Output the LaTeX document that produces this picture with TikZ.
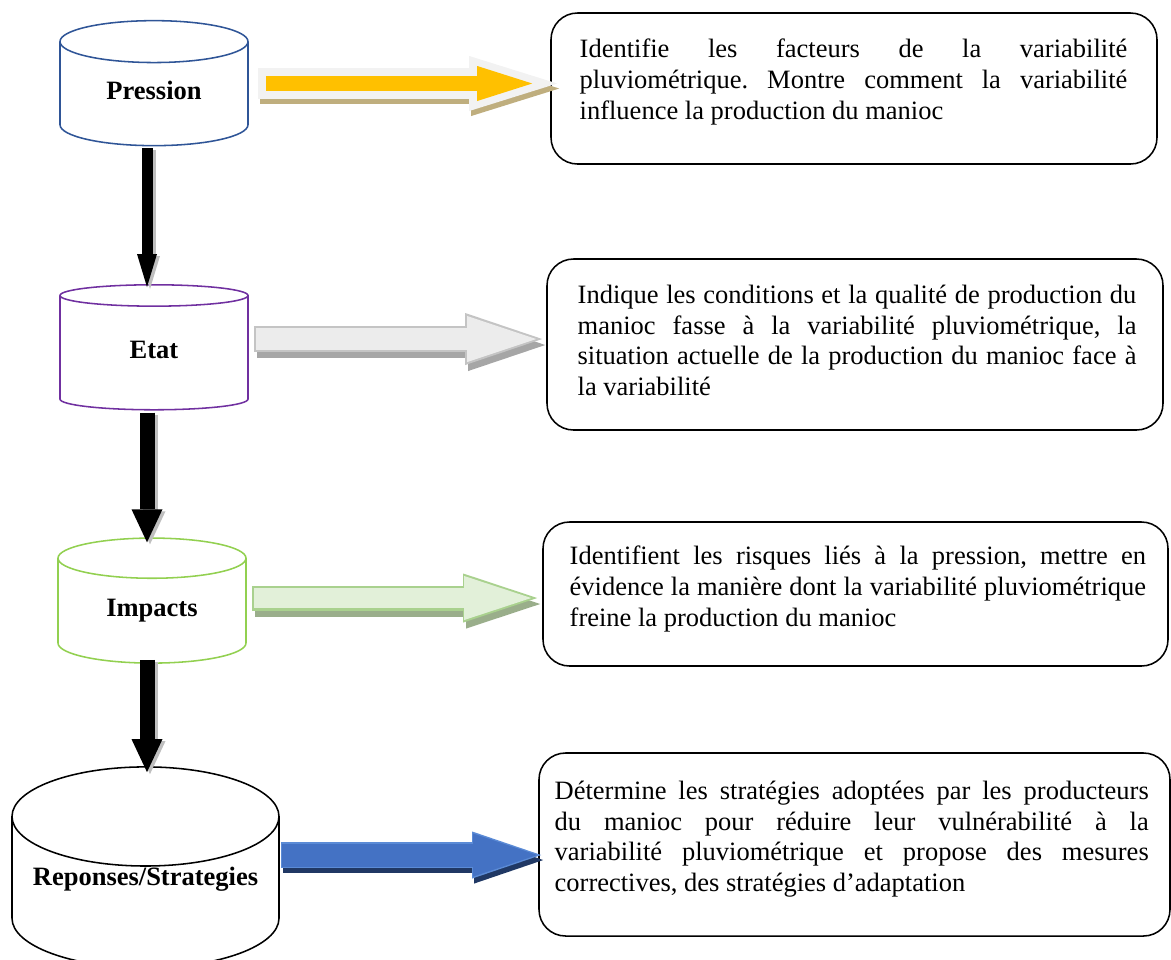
\documentclass[tikz,border=0pt]{standalone}
\usepackage{fontspec}
\setmainfont{Liberation Serif}
\usetikzlibrary{positioning,arrows.meta,shapes.geometric,calc}
\definecolor{pressblue}{HTML}{2F5597}
\definecolor{etatpurple}{HTML}{7030A0}
\definecolor{impgreen}{HTML}{92D050}
\definecolor{arryellow}{HTML}{FFC000}
\definecolor{arrhalo}{HTML}{F2F2F2}
\definecolor{arrtan}{HTML}{BFAE7E}
\definecolor{arrgray}{HTML}{C4C4C4}
\definecolor{arrgrayfill}{HTML}{ECECEC}
\definecolor{arrgrayshade}{HTML}{A6A6A6}
\definecolor{arrgreen}{HTML}{A9D18E}
\definecolor{arrgreenfill}{HTML}{E2F0D9}
\definecolor{arrgreenshade}{HTML}{9AAE8B}
\definecolor{arrblue}{HTML}{4472C4}
\definecolor{arrblueedge}{HTML}{5B8BD6}
\definecolor{arrblueshade}{HTML}{203864}
\definecolor{dropgray}{HTML}{BFBFBF}
\newlength{\px}\setlength{\px}{0.4528pt}
\tolerance=10000
\hyphenpenalty=10000
\frenchspacing

\begin{document}
\begin{tikzpicture}[
    x=0.4528pt, y=-0.4528pt,
    every node/.style={font=\fontsize{12}{14}\selectfont},
    tank/.style={
        cylinder, shape border rotate=90, aspect=0.44, draw=#1,
        line width=0.7pt, minimum width=188\px, minimum height=125\px,
        inner sep=0pt, text height=8.3pt, text depth=3.4pt,
        font=\fontsize{12}{14}\selectfont\bfseries
    },
    descbox/.style={draw, line width=0.7pt, rounded corners=12pt},
    desctext/.style={anchor=north west, align=justify, inner sep=0pt},
    barr/.style n args={4}{
        draw=#1, line width=#2\px,
        -{Triangle[width=\the\dimexpr#3\px\relax, length=\the\dimexpr#4\px\relax, line width=0pt 0 0]}
    },
]
\useasboundingbox (0,0) rectangle (1171,959);

% === Cylinders (left column) ===
\node[tank=pressblue] (press) at (154,94) {Pression};
\node[tank=etatpurple] (etat) at (154,353) {Etat};
\node[tank=impgreen] (impacts) at (152,611) {Impacts};
\node[tank=black, minimum width=267\px, minimum height=177\px, text depth=15pt] (reponses) at (145.5,892.5) {Reponses/Strategies};

% === Description boxes (right column) ===
\node[descbox, minimum width=606\px, minimum height=151\px] (box1) at (854,88.5) {};
\node[descbox, minimum width=616\px, minimum height=171\px] (box2) at (855,344.5) {};
\node[descbox, minimum width=625\px, minimum height=144\px] (box3) at (855.5,594) {};
\node[descbox, minimum width=631\px, minimum height=183\px] (box4) at (854.5,844.5) {};

\node[desctext, text width=248pt] (txt1) at ([xshift=29\px, yshift=-26\px]box1.north west)
    {Identifie les facteurs de la variabilité\linebreak
     pluviométrique. Montre comment la variabilité\linebreak
     influence la production du manioc};
\node[desctext, text width=253pt] (txt2) at ([xshift=31\px, yshift=-26\px]box2.north west)
    {Indique les conditions et la qualité de production du\linebreak
     manioc fasse à la variabilité pluviométrique, la\linebreak
     situation actuelle de la production du manioc face à\linebreak
     la variabilité};
\node[desctext, text width=261pt] (txt3) at ([xshift=27\px, yshift=-24\px]box3.north west)
    {Identifient les risques liés à la pression, mettre en\linebreak
     évidence la manière dont la variabilité pluviométrique\linebreak
     freine la production du manioc};
\node[desctext, text width=269pt] (txt4) at ([xshift=16\px, yshift=-28\px]box4.north west)
    {Détermine les stratégies adoptées par les producteurs\linebreak
     du manioc pour réduire leur vulnérabilité à la\linebreak
     variabilité pluviométrique et propose des mesures\linebreak
     correctives, des stratégies d’adaptation};

% === Downward flow (black arrows) ===
\coordinate (spine) at (147,0);
\draw[barr={dropgray}{11}{20}{33}, transform canvas={shift={(3,2)}}, shorten <=2\px, shorten >=-3\px]
    (press.south -| spine) -- (etat.north -| spine);
\draw[barr={black}{11}{20}{33}, shorten <=2\px, shorten >=-3\px]
    (press.south -| spine) -- (etat.north -| spine);
\draw[barr={dropgray}{15}{31}{33}, transform canvas={shift={(3,2)}}, shorten <=2\px, shorten >=-5\px]
    (etat.south -| spine) -- (impacts.north -| spine);
\draw[barr={black}{15}{31}{33}, shorten <=2\px, shorten >=-5\px]
    (etat.south -| spine) -- (impacts.north -| spine);
\draw[barr={dropgray}{15}{31}{33}, transform canvas={shift={(3,2)}}, shorten <=-4\px, shorten >=-6\px]
    (impacts.south -| spine) -- (reponses.north -| spine);
\draw[barr={black}{15}{31}{33}, shorten <=-4\px, shorten >=-6\px]
    (impacts.south -| spine) -- (reponses.north -| spine);

% === Block arrows towards the boxes ===
% Pression -> box1
\draw[barr={arrtan}{31}{55}{88}, transform canvas={shift={(2,-5.5)}}, shorten <=9\px, shorten >=-7\px]
    (press.east) -- (press.east -| box1.west);
\draw[barr={arrhalo}{31}{55}{88}, transform canvas={shift={(0,-10.5)}}, shorten <=9\px, shorten >=-7\px]
    (press.east) -- (press.east -| box1.west);
\draw[barr={arryellow}{15}{35}{55}, transform canvas={shift={(0,-10.5)}}, shorten <=17\px, shorten >=18\px]
    (press.east) -- (press.east -| box1.west);

% Etat -> box2
\draw[barr={arrgrayshade}{26}{52}{77}, transform canvas={shift={(3,-8)}}, shorten <=5\px, shorten >=4\px]
    (etat.east) -- (etat.east -| box2.west);
\draw[barr={arrgray}{26}{52}{77}, transform canvas={shift={(0,-14)}}, shorten <=5\px, shorten >=4\px]
    (etat.east) -- (etat.east -| box2.west);
\draw[barr={arrgrayfill}{22}{46}{69}, transform canvas={shift={(0,-14)}}, shorten <=7\px, shorten >=10\px]
    (etat.east) -- (etat.east -| box2.west);

% Impacts -> box3
\draw[barr={arrgreenshade}{25}{49}{74}, transform canvas={shift={(3,-7)}}, shorten <=5\px, shorten >=5\px]
    (impacts.east) -- (impacts.east -| box3.west);
\draw[barr={arrgreen}{25}{49}{74}, transform canvas={shift={(0,-13)}}, shorten <=5\px, shorten >=5\px]
    (impacts.east) -- (impacts.east -| box3.west);
\draw[barr={arrgreenfill}{20}{44}{67}, transform canvas={shift={(0,-13)}}, shorten <=7.5\px, shorten >=11\px]
    (impacts.east) -- (impacts.east -| box3.west);

% Reponses -> box4
\draw[barr={arrblueshade}{26}{47}{69}, transform canvas={shift={(2,-32.5)}}, shorten <=1\px, shorten >=-3\px]
    (reponses.east) -- (reponses.east -| box4.west);
\draw[barr={arrblueedge}{26}{47}{69}, transform canvas={shift={(0,-37.5)}}, shorten <=1\px, shorten >=-3\px]
    (reponses.east) -- (reponses.east -| box4.west);
\draw[barr={arrblue}{23}{43}{64}, transform canvas={shift={(0,-37.5)}}, shorten <=2\px, shorten >=1\px]
    (reponses.east) -- (reponses.east -| box4.west);

\end{tikzpicture}
\end{document}
